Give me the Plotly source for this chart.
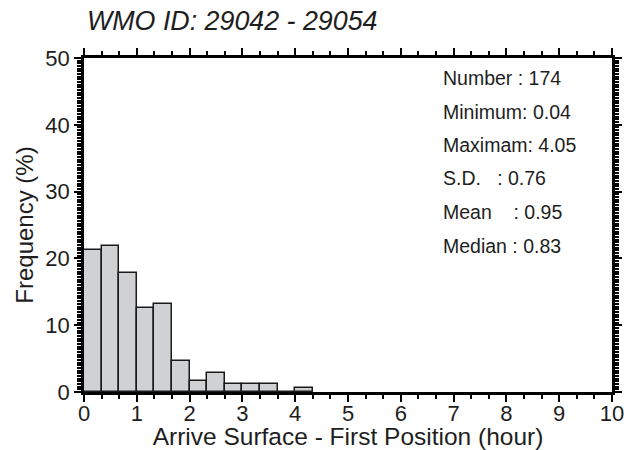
import plotly.graph_objects as go

# ---- data ----
bin_left = [0.0, 0.333, 0.667, 1.0, 1.333, 1.667, 2.0, 2.333, 2.667, 3.0, 3.333, 3.667, 4.0]
bin_width = 0.333
freq_pct = [21.26, 21.84, 17.82, 12.64, 13.22, 4.60, 1.72, 2.87, 1.15, 1.15, 1.15, 0.0, 0.57]

stat_labels = ["Number : 174", "Minimum: 0.04", "Maximam: 4.05",
               "S.D.\u00a0\u00a0\u00a0: 0.76", "Mean\u00a0\u00a0\u00a0\u00a0: 0.95", "Median : 0.83"]

x_range = [0, 10]
y_range = [0, 50]

FONT = "Liberation Sans, Arial, Helvetica, sans-serif"
TXT = "#1e1e1e"
INK = "black"

fig = go.Figure()
fig.add_trace(go.Bar(
    x=bin_left, y=freq_pct, width=bin_width, offset=0,
    marker=dict(color="#d0d1d3", line=dict(color="#1a1a1a", width=1.5)),
    showlegend=False, hoverinfo="skip",
))

W, H = 640, 450
ml, mr, mt, mb = 84, 28, 58, 58
plot_h = H - mt - mb

stat_y_px = [78.3, 111.7, 145.0, 178.3, 211.7, 246.0]
for lab, ypx in zip(stat_labels, stat_y_px):
    fig.add_annotation(
        text=lab, xref="paper", yref="paper",
        x=(440.7 - ml) / (W - ml - mr), y=(H - mb - ypx) / plot_h,
        xanchor="left", yanchor="middle", showarrow=False,
        font=dict(family=FONT, size=19.5, color=TXT),
    )

fig.update_layout(
    xaxis=dict(
        range=x_range, dtick=1,
        showline=True, linecolor=INK, linewidth=2.5, mirror="allticks",
        ticks="outside", tickcolor=INK, tickwidth=2, ticklen=7,
        ticklabelstandoff=-7,
        tickfont=dict(family=FONT, size=22, color=TXT),
        minor=dict(ticks="outside", dtick=1/3, ticklen=4, tickwidth=2, tickcolor=INK),
        title=dict(text="Arrive Surface - First Position (hour)",
                   font=dict(family=FONT, size=24.5, color=TXT), standoff=4),
        showgrid=False, zeroline=False,
    ),
    yaxis=dict(
        range=y_range, dtick=10,
        showline=True, linecolor=INK, linewidth=2.5, mirror="allticks",
        ticks="outside", tickcolor=INK, tickwidth=2, ticklen=7,
        tickfont=dict(family=FONT, size=22, color=TXT),
        minor=dict(ticks="outside", dtick=0.4, ticklen=4, tickwidth=2, tickcolor=INK),
        title=dict(text="Frequency (%)",
                   font=dict(family=FONT, size=24, color=TXT), standoff=5),
        showgrid=False, zeroline=False,
    ),
)

fig.update_layout(
    width=W, height=H,
    margin=dict(l=ml, r=mr, t=mt, b=mb, autoexpand=False),
    paper_bgcolor="white", plot_bgcolor="white",
    bargap=0,
    title=dict(text="WMO ID: 29042 - 29054", xref="container", yref="container",
               x=87 / W, xanchor="left", y=1 - 20.5 / H, yanchor="middle",
               font=dict(family=FONT, size=26.8, color=TXT, style="italic")),
)

fig.write_html("out.html")
